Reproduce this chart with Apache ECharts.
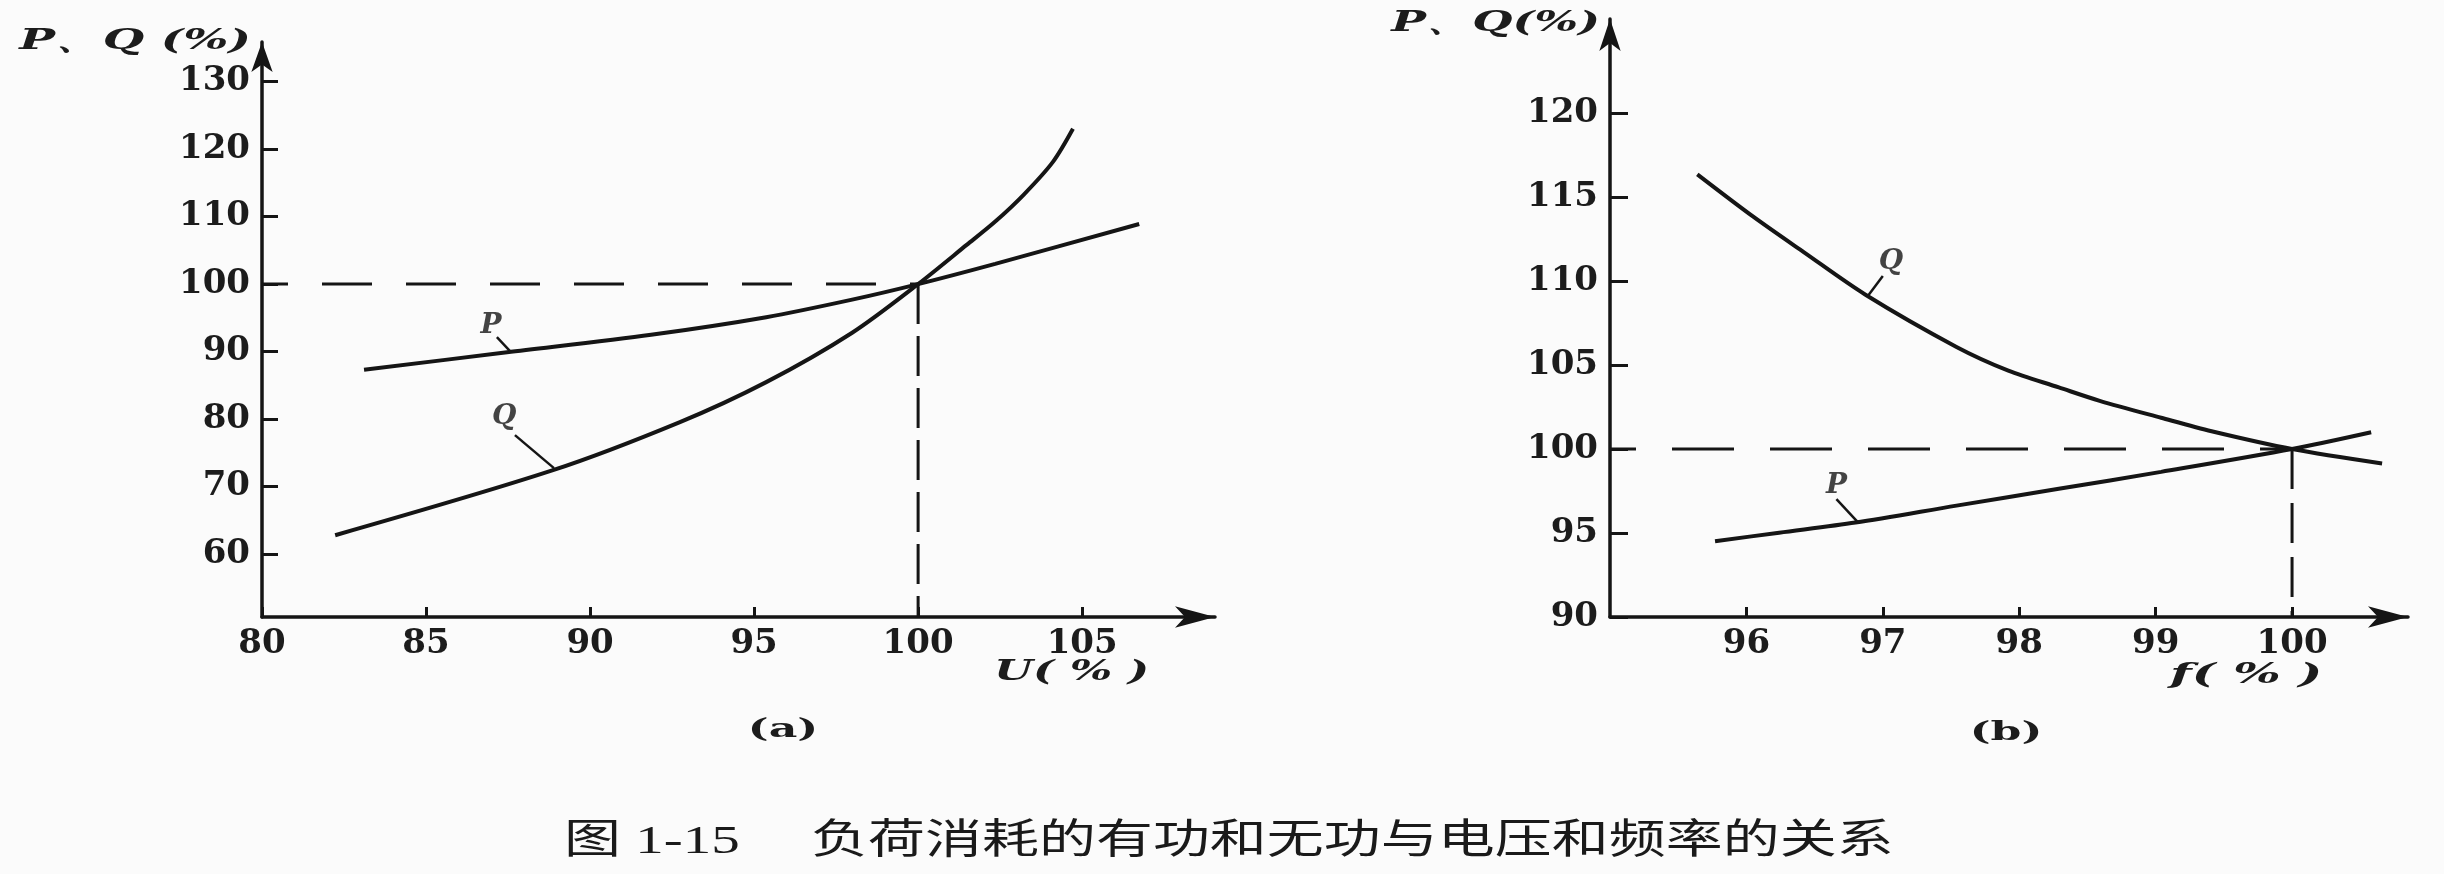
<!DOCTYPE html>
<html>
<head>
<meta charset="utf-8">
<script src="https://cdn.jsdelivr.net/npm/echarts@6/dist/echarts.min.js"></script>
<style>
html,body{margin:0;padding:0;background:#fbfbfb;}
#chart{width:2444px;height:874px;}
</style>
</head>
<body>
<div id="chart"></div>
<script>
// ---- Data (a): load vs voltage U(%) ----
const uTicks = [80, 85, 90, 95, 100, 105];
const pqTicksA = [60, 70, 80, 90, 100, 110, 120, 130];
const uP = [[83.11, 87.3], [87.47, 89.9], [91.86, 92.5], [95.37, 95.1], [97.99, 97.7], [100, 100], [102.35, 103.0], [106.74, 108.9]];
const uQ = [[82.23, 62.81], [88.87, 72.44], [92.74, 79.56], [95.37, 85.48], [97.99, 92.8], [100, 100], [101.48, 105.8], [102.36, 109.3], [103.23, 113.3], [104.11, 118.1], [104.72, 123.0]];
const refA = [100, 100];
const leaderAP = [[87.16, 92.15], [87.59, 89.93]];
const leaderAQ = [[87.71, 77.63], [88.9, 72.74]];
const labelAP = [86.98, 93.78];
const labelAQ = [87.38, 80.3];

// ---- Data (b): load vs frequency f(%) ----
const fTicks = [96, 97, 98, 99, 100];
const pqTicksB = [90, 95, 100, 105, 110, 115, 120];
const fQ = [[95.64, 116.35], [96.05, 113.83], [96.42, 111.72], [96.87, 109.2], [97.54, 106.08], [97.92, 104.67], [98.29, 103.67], [98.59, 102.87], [99.04, 101.86], [99.41, 101.06], [100, 100], [100.66, 99.14]];
const fP = [[95.77, 94.51], [96.24, 95.02], [96.8, 95.62], [97.54, 96.63], [98.29, 97.63], [99.04, 98.64], [100, 100], [100.58, 101.0]];
const refB = [100, 100];
const leaderBQ = [[97.0, 110.3], [96.89, 109.11]];
const leaderBP = [[96.66, 97.02], [96.82, 95.62]];
const labelBQ = [97.06, 111.15];
const labelBP = [96.66, 97.83];

const INK = '#151515';
const tickFont = {fontFamily: 'DejaVu Serif', fontWeight: 'bold', fontSize: 34, color: '#1c1c1c'};

function valueAxis(idx, min, max, ticks, arrowSize, tickLen, margin) {
  return {
    type: 'value', gridIndex: idx, min: min, max: max,
    axisLine: {show: true, onZero: false, symbol: ['none', 'arrow'], symbolSize: arrowSize,
      lineStyle: {color: INK, width: 3.5}},
    axisTick: {show: true, inside: true, length: tickLen, customValues: ticks,
      lineStyle: {color: INK, width: 3}},
    axisLabel: Object.assign({show: true, margin: margin, customValues: ticks}, tickFont),
    splitLine: {show: false}
  };
}

function curve(name, xi, data) {
  return {
    type: 'line', name: name, xAxisIndex: xi, yAxisIndex: xi, data: data,
    smooth: 0.3, showSymbol: false, symbol: 'none',
    lineStyle: {color: INK, width: 4}, silent: true, z: 3
  };
}
function leader(xi, data) {
  return {
    type: 'line', xAxisIndex: xi, yAxisIndex: xi, data: data,
    showSymbol: false, symbol: 'none', lineStyle: {color: INK, width: 2.5}, silent: true
  };
}
function tag(xi, text, pos) {
  return {
    type: 'scatter', xAxisIndex: xi, yAxisIndex: xi, symbolSize: 0,
    data: [{name: text, value: pos}], silent: true,
    label: {show: true, position: 'inside', formatter: '{b}',
      fontFamily: 'DejaVu Serif', fontStyle: 'italic', fontWeight: 'bold', fontSize: 28, color: INK}
  };
}
function dashed(xi, data, dash, offset) {
  return {
    type: 'line', xAxisIndex: xi, yAxisIndex: xi, data: data,
    showSymbol: false, symbol: 'none', silent: true, z: 10, clip: false,
    lineStyle: {color: INK, width: 3, type: dash, dashOffset: offset}
  };
}

const chart = echarts.init(document.getElementById('chart'), null, {renderer: 'canvas'});
const nameStyle = {fontFamily: 'DejaVu Serif', fontWeight: 'bold', fontStyle: 'italic', fontSize: 28, fill: '#1c1c1c'};
function txt(x, y, text, align, sx, style) {
  return {type: 'text', x: x, y: y, scaleX: sx,
    style: Object.assign({text: text, align: align, verticalAlign: 'middle'}, style)};
}
chart.setOption({
  backgroundColor: '#fbfbfb',
  animation: false,
  grid: [
    {left: 262, top: 42, width: 953, height: 575},
    {left: 1610, top: 19, width: 798, height: 598}
  ],
  xAxis: [
    valueAxis(0, 80, 109.05, uTicks, [16, 40], 10, 10),
    valueAxis(1, 95, 100.85, fTicks, [16, 40], 10, 10)
  ],
  yAxis: [
    valueAxis(0, 50.7, 135.85, pqTicksA, [16, 30], 16, 12),
    valueAxis(1, 90, 125.6, pqTicksB, [16, 32], 18, 12)
  ],
  series: [
    dashed(0, [[80, refA[1]], refA], [50, 34], 24),
    dashed(0, [refA, [refA[0], 50.7]], [40, 12], 0),
    dashed(1, [[95, refB[1]], refB], [62, 36], 36),
    dashed(1, [refB, [refB[0], 90]], [40, 14], 0),
    curve('P', 0, uP), curve('Q', 0, uQ),
    curve('P', 1, fP), curve('Q', 1, fQ),
    leader(0, leaderAP), leader(0, leaderAQ), leader(1, leaderBP), leader(1, leaderBQ),
    tag(0, 'P', labelAP), tag(0, 'Q', labelAQ), tag(1, 'P', labelBP), tag(1, 'Q', labelBQ)
  ],
  graphic: [
    txt(251, 42, 'P、Q (%)', 'right', 1.7, nameStyle),
    txt(1600, 24, 'P、Q(%)', 'right', 1.65, nameStyle),
    txt(994, 673, 'U( % )', 'left', 1.6, nameStyle),
    txt(2170, 676, 'f( % )', 'left', 1.8, nameStyle),
    txt(783, 730, '(a)', 'center', 1.7, {fontFamily: 'DejaVu Serif', fontWeight: 'bold', fontSize: 26, fill: '#1c1c1c'}),
    txt(2006, 733, '(b)', 'center', 1.7, {fontFamily: 'DejaVu Serif', fontWeight: 'bold', fontSize: 26, fill: '#1c1c1c'}),
    txt(564, 842, '图 1-15\u3000 负荷消耗的有功和无功与电压和频率的关系', 'left', 1.39,
      {fontFamily: "'Liberation Serif', 'Noto Sans CJK SC'", fontSize: 41, fill: '#1a1a1a'})
  ]
});
</script>
</body>
</html>
